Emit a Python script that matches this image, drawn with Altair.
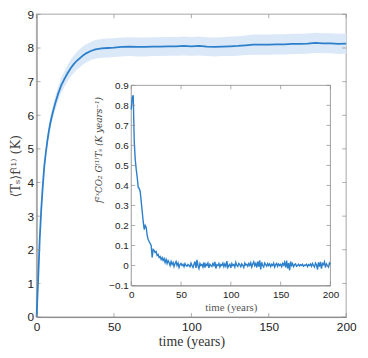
import altair as alt
import pandas as pd

# ---- main curve: ensemble mean surface temperature response ----
t_main = [0, 1, 2, 3, 4, 5, 6, 7, 8, 9, 10, 12, 14, 16, 18, 20, 22, 24, 26, 28, 30, 32,
          35, 38, 42, 46, 50, 55, 60, 65, 70, 75, 80, 85, 90, 95, 100, 105, 110, 115,
          120, 125, 130, 135, 140, 145, 150, 155, 160, 165, 170, 175, 180, 185, 190, 195, 200]
ts_mean = [0, 1.1, 2.3, 3.2, 3.9, 4.5, 4.9, 5.25, 5.55, 5.8, 6.0, 6.35, 6.65, 6.9, 7.08, 7.25,
           7.4, 7.52, 7.62, 7.7, 7.78, 7.84, 7.91, 7.96, 7.99, 8.0, 8.01, 8.03, 8.04, 8.03,
           8.03, 8.04, 8.04, 8.05, 8.05, 8.06, 8.05, 8.06, 8.04, 8.03, 8.04, 8.05, 8.06, 8.08,
           8.1, 8.1, 8.1, 8.11, 8.11, 8.12, 8.12, 8.13, 8.15, 8.14, 8.14, 8.12, 8.13]
ts_half = [0, 0.05, 0.08, 0.1, 0.12, 0.14, 0.15, 0.16, 0.17, 0.18, 0.19, 0.2, 0.21, 0.22, 0.23,
           0.24, 0.25, 0.26, 0.26, 0.27, 0.27, 0.27, 0.27, 0.28, 0.28, 0.28, 0.28, 0.28, 0.28,
           0.28, 0.28, 0.28, 0.28, 0.28, 0.28, 0.28, 0.28, 0.28, 0.28, 0.28, 0.28, 0.29, 0.29,
           0.29, 0.3, 0.3, 0.3, 0.3, 0.3, 0.3, 0.3, 0.3, 0.3, 0.3, 0.3, 0.3, 0.3]

# ---- inset: response function ----
t_inset = list(range(0, 201))
g_inset = [
    0.78, 0.84, 0.85, 0.62, 0.53, 0.48, 0.44, 0.39, 0.385, 0.37,
    0.32, 0.27, 0.22, 0.18, 0.20, 0.19, 0.15, 0.13, 0.12, 0.11,
    0.10, 0.04, 0.08, 0.075, 0.065, 0.07, 0.05, 0.055, 0.04, 0.045,
    0.03, 0.04, 0.025, 0.035, 0.015, 0.03, 0.01, 0.025, 0.015, 0.0,
    0.02,
    0.005, 0.015, -0.005, 0.01, 0.02, 0.0, 0.012, -0.01, 0.005, 0.01,
    0.0, 0.006, -0.006, 0.01, 0.0, -0.004, 0.005, 0.0, -0.006, 0.012,
    0.0, -0.01, 0.006, 0.02, -0.012, 0.028, 0.0, -0.015, 0.01, 0.0,
    0.005, -0.008, 0.015, -0.01, 0.008, 0.0, 0.012, -0.012, 0.006, 0.0,
    -0.005, 0.01, 0.0, 0.018, -0.015, 0.004, 0.0, 0.01, -0.008, 0.005,
    0.0, 0.012, -0.006, 0.008, -0.004, 0.022, -0.01, 0.0, 0.006, -0.012,
    0.01, 0.0, 0.005, -0.008, 0.015, 0.0, -0.005, 0.01, 0.004, -0.006,
    0.008, 0.0, -0.01, 0.012, 0.002, 0.006, -0.004, 0.01, 0.0, 0.014,
    -0.008, 0.006, 0.018, 0.0, 0.01, -0.01, 0.02, -0.006, 0.026, -0.02,
    0.016, 0.0, -0.008, 0.012, 0.004, -0.004, 0.01, 0.0, 0.008, -0.006,
    0.006, 0.0, 0.012, -0.008, 0.004, 0.01, -0.004, 0.008, 0.0, 0.006,
    -0.006, 0.01, 0.002, 0.016, -0.01, 0.024, -0.014, 0.012, -0.024, 0.02,
    0.0, 0.01, -0.006, 0.004, 0.008, -0.004, 0.0, 0.006, -0.002, 0.004,
    0.0, 0.006, -0.004, 0.002, 0.0, 0.006, -0.006, 0.004, 0.0, 0.008,
    -0.004, 0.01, 0.0, -0.008, 0.012, 0.004, -0.02, 0.016, -0.006, 0.018,
    -0.016, 0.01, 0.004, 0.018, -0.01, 0.008, 0.0, -0.008, 0.012, 0.006,
]

main_xticks = [0, 50, 100, 150, 200]
main_yticks = [0, 1, 2, 3, 4, 5, 6, 7, 8, 9]
inset_xticks = [0, 50, 100, 150, 200]
inset_yticks = [-0.1, 0, 0.1, 0.2, 0.3, 0.4, 0.5, 0.6, 0.7, 0.8, 0.9]

main_title_x = "time (years)"
main_title_y = "⟨Tₛ⟩f⁽¹⁾ (K)"
inset_title_x = "time (years)"
inset_title_y = "f²ˣCO₂ G⁽¹⁾Tₛ (K years⁻¹)"

LINE = "#2c7fca"
BAND = "#dbe8f7"
AXC = "#8a8a8a"

df_main = pd.DataFrame({
    "t": t_main,
    "m": ts_mean,
    "lo": [m - h for m, h in zip(ts_mean, ts_half)],
    "hi": [m + h for m, h in zip(ts_mean, ts_half)],
})
df_in = pd.DataFrame({"t": t_inset, "g": g_inset})
df_mxt = pd.DataFrame({"v": main_xticks})
df_myt = pd.DataFrame({"v": main_yticks})
df_ixt = pd.DataFrame({"v": inset_xticks})
df_iyt = pd.DataFrame({"v": inset_yticks})
df_one = pd.DataFrame({"a": [0]})

# ---------------- main panel ----------------
xs = alt.Scale(domain=[0, 200], nice=False, zero=False)
ys = alt.Scale(domain=[0, 9], nice=False, zero=False)
x_axis = alt.Axis(values=main_xticks, title=main_title_x, ticks=False, tickSize=0, grid=False,
                  domainColor=AXC, labelFont="Liberation Sans", labelFontSize=12,
                  labelColor="#222", labelPadding=5, labelFlush=False,
                  titleFont="Liberation Serif", titleFontSize=14, titleFontWeight="normal",
                  titleColor="#333", titlePadding=2)
y_axis = alt.Axis(values=main_yticks, title=main_title_y, ticks=False, tickSize=0, grid=False,
                  domainColor=AXC, labelFont="Liberation Sans", labelFontSize=12,
                  labelColor="#222", labelPadding=3, labelFlush=False,
                  titleFont="DejaVu Serif", titleFontSize=13, titleFontWeight="normal",
                  titleColor="#444", titlePadding=5)

band = alt.Chart(df_main).mark_area(color=BAND, opacity=1).encode(
    x=alt.X("t:Q", scale=xs, axis=x_axis),
    y=alt.Y("lo:Q", scale=ys, axis=y_axis),
    y2="hi:Q",
)
mline = alt.Chart(df_main).mark_line(color=LINE, strokeWidth=1.8).encode(
    x=alt.X("t:Q", scale=xs, axis=x_axis),
    y=alt.Y("m:Q", scale=ys, axis=y_axis),
)
mt_bottom = alt.Chart(df_mxt).mark_tick(orient="vertical", size=4, thickness=1, color=AXC, yOffset=-2).encode(
    x=alt.X("v:Q", scale=xs, axis=x_axis), y=alt.YDatum(0, scale=ys, axis=y_axis))
mt_top = alt.Chart(df_mxt).mark_tick(orient="vertical", size=4, thickness=1, color=AXC, yOffset=2).encode(
    x=alt.X("v:Q", scale=xs, axis=x_axis), y=alt.YDatum(9, scale=ys, axis=y_axis))
mt_left = alt.Chart(df_myt).mark_tick(orient="horizontal", size=4, thickness=1, color=AXC, xOffset=2).encode(
    y=alt.Y("v:Q", scale=ys, axis=y_axis), x=alt.XDatum(0, scale=xs, axis=x_axis))
mt_right = alt.Chart(df_myt).mark_tick(orient="horizontal", size=4, thickness=1, color=AXC, xOffset=-2).encode(
    y=alt.Y("v:Q", scale=ys, axis=y_axis), x=alt.XDatum(200, scale=xs, axis=x_axis))

main = alt.layer(band, mline, mt_bottom, mt_top, mt_left, mt_right)

# ---------------- inset panel ----------------
xs_in = alt.Scale(domain=[0, 200], range=[96, 298], nice=False, zero=False)
ys_in = alt.Scale(domain=[-0.1, 0.9], range=[275, 72], nice=False, zero=False)
ix_axis = alt.Axis(orient="bottom", offset=-32, values=inset_xticks, title=inset_title_x,
                   ticks=False, tickSize=0, grid=False, domainColor=AXC,
                   labelFont="Liberation Sans", labelFontSize=10, labelColor="#222",
                   labelPadding=4, labelFlush=False,
                   titleFont="Liberation Serif", titleFontSize=11, titleFontWeight="normal",
                   titleColor="#555", titlePadding=2)
iy_axis = alt.Axis(orient="left", offset=-96, values=inset_yticks, title=inset_title_y,
                   format="~g", ticks=False, tickSize=0, grid=False, domainColor=AXC,
                   labelFont="Liberation Sans", labelFontSize=10, labelColor="#222",
                   labelPadding=3, labelFlush=False,
                   titleFont="DejaVu Serif", titleFontSize=9, titleFontWeight="normal",
                   titleFontStyle="italic", titleColor="#444", titlePadding=5, titleY=137)

frame = alt.Chart(df_one).mark_rect(fill="white", stroke="#a0a0a0", strokeWidth=1).encode(
    x=alt.XDatum(0, scale=xs_in, axis=ix_axis), x2=alt.datum(200),
    y=alt.YDatum(-0.1, scale=ys_in, axis=iy_axis), y2=alt.datum(0.9),
)
iline = alt.Chart(df_in).mark_line(color=LINE, strokeWidth=1.4).encode(
    x=alt.X("t:Q", scale=xs_in, axis=ix_axis),
    y=alt.Y("g:Q", scale=ys_in, axis=iy_axis),
)
it_bottom = alt.Chart(df_ixt).mark_tick(orient="vertical", size=4, thickness=1, color=AXC, yOffset=-2).encode(
    x=alt.X("v:Q", scale=xs_in, axis=ix_axis), y=alt.YDatum(-0.1, scale=ys_in, axis=iy_axis))
it_top = alt.Chart(df_ixt).mark_tick(orient="vertical", size=4, thickness=1, color=AXC, yOffset=2).encode(
    x=alt.X("v:Q", scale=xs_in, axis=ix_axis), y=alt.YDatum(0.9, scale=ys_in, axis=iy_axis))
it_left = alt.Chart(df_iyt).mark_tick(orient="horizontal", size=4, thickness=1, color=AXC, xOffset=2).encode(
    y=alt.Y("v:Q", scale=ys_in, axis=iy_axis), x=alt.XDatum(0, scale=xs_in, axis=ix_axis))
it_right = alt.Chart(df_iyt).mark_tick(orient="horizontal", size=4, thickness=1, color=AXC, xOffset=-2).encode(
    y=alt.Y("v:Q", scale=ys_in, axis=iy_axis), x=alt.XDatum(200, scale=xs_in, axis=ix_axis))

inset = alt.layer(frame, iline, it_bottom, it_top, it_left, it_right)

chart = alt.layer(main, inset).resolve_scale(x="independent", y="independent").properties(
    width=314, height=307,
    autosize=alt.AutoSizeParams(type="none"),
    padding={"left": 29, "top": 4, "right": 14, "bottom": 34},
    background="white",
).configure_view(stroke="#c4c4c4", strokeWidth=1.5)

chart.save("out.html", embed_options={"renderer": "svg", "actions": False})
